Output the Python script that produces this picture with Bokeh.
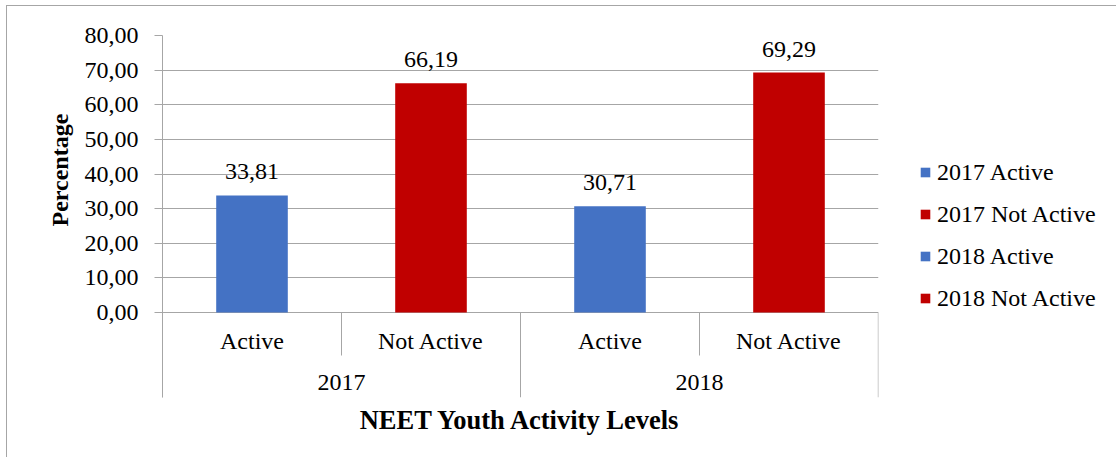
from bokeh.plotting import figure
from bokeh.models import (FactorRange, ColumnDataSource, FixedTicker, Legend,
                          LegendItem, Title, Range1d)
from bokeh.transform import dodge
from bokeh.embed import file_html
from bokeh.resources import INLINE
from bokeh.core.properties import value

# ---- data ----
years = ["2017", "2018"]
levels = ["Active", "Not Active"]
values = [33.81, 66.19, 30.71, 69.29]
level_colors = {"Active": "#4472C4", "Not Active": "#C00000"}
y_ticks = [0, 10, 20, 30, 40, 50, 60, 70, 80]

factors = [(y, l) for y in years for l in levels]

# ---- layout constants ----
FONT = "Liberation Serif"
LEFT, TOP, BOTTOM = 155, 29, 60
FW, FH = 716, 362
band_px = 85          # category band drawn inside the frame, below zero
y_max = 80
ppu = (FH - band_px) / y_max
y_min = -band_px / ppu
GRID = "#a6a6a6"

x_range = FactorRange(*factors, factor_padding=0, group_padding=0,
                      subgroup_padding=0, range_padding=0)
p = figure(frame_width=FW, frame_height=FH, x_range=x_range, y_range=Range1d(y_min, y_max),
           output_backend="svg", toolbar_location=None, x_axis_location=None,
           min_border_left=LEFT, min_border_right=0, min_border_top=TOP,
           min_border_bottom=BOTTOM)
p.outline_line_color = None
p.background_fill_color = "white"
p.border_fill_color = "white"
p.styles = {"margin-left": "6px", "margin-top": "5px",
            "border-left": "1px solid #a6a6a6", "border-top": "1px solid #a6a6a6"}

# ---- y axis ----
ax = p.yaxis[0]
ax.ticker = FixedTicker(ticks=y_ticks)
ax.major_label_overrides = {t: f"{t:.2f}".replace(".", ",") for t in y_ticks}
ax.major_label_text_font = FONT
ax.major_label_text_font_size = "24px"
ax.major_label_text_color = "black"
ax.major_label_standoff = 16
ax.major_tick_in = 0
ax.major_tick_out = 8
ax.major_tick_line_color = GRID
ax.minor_tick_line_color = None
ax.axis_line_color = GRID

# y axis title, shifted to sit beside the value scale
p.add_layout(Title(text="Percentage", align="left", offset=171, standoff=18,
                   text_font=FONT, text_font_size="24px", text_font_style="bold",
                   text_color="black"), "left")

p.xgrid.visible = False
p.ygrid.ticker = FixedTicker(ticks=y_ticks)
p.ygrid.grid_line_color = GRID

# ---- bars ----
src = ColumnDataSource(dict(
    x=factors,
    top=values,
    color=[level_colors[l] for (_, l) in factors],
    label=[f"{v:.2f}".replace(".", ",") for v in values],
))
bars = p.vbar(x="x", top="top", width=0.4, fill_color="color", line_color=None, source=src)

p.text(x="x", y="top", text="label", source=src, y_offset=-16,
       text_align="center", text_baseline="bottom",
       text_font=value(FONT), text_font_size="24px", text_color="black")

# ---- category axis drawn in the band below zero ----
inner_y = -28 / ppu
outer_y = -70 / ppu
cat_src = ColumnDataSource(dict(x=factors, y=[inner_y] * len(factors),
                                text=[l for (_, l) in factors]))
p.text(x="x", y="y", text="text", source=cat_src, text_align="center",
       text_baseline="middle", text_font=value(FONT), text_font_size="24px",
       text_color="black")

grp_src = ColumnDataSource(dict(x=years, y=[outer_y] * len(years), text=years))
p.text(x="x", y="y", text="text", source=grp_src,
       text_align="center", text_baseline="middle", text_font=value(FONT),
       text_font_size="24px", text_color="black")

inner_bottom = -43 / ppu
inner_src = ColumnDataSource(dict(x=[(y, levels[1]) for y in years]))
p.segment(x0=dodge("x", -0.5, range=x_range), x1=dodge("x", -0.5, range=x_range),
          y0=0, y1=inner_bottom, source=inner_src, line_color=GRID, line_width=1)

outer_left = ColumnDataSource(dict(x=[(y, levels[0]) for y in years]))
outer_right = ColumnDataSource(dict(x=[(years[-1], levels[-1])]))
p.segment(x0=dodge("x", -0.5, range=x_range), x1=dodge("x", -0.5, range=x_range),
          y0=0, y1=y_min, source=outer_left, line_color=GRID, line_width=1)
p.segment(x0=dodge("x", 0.499, range=x_range), x1=dodge("x", 0.499, range=x_range),
          y0=0, y1=y_min, source=outer_right, line_color=GRID, line_width=1)

# ---- legend ----
items = [LegendItem(label=f"{y} {l}", renderers=[bars], index=i)
         for i, (y, l) in enumerate(factors)]
legend = Legend(items=items, location=(41, 85), glyph_width=12, glyph_height=12,
                label_standoff=6, label_height=28, spacing=14, padding=0, margin=0,
                border_line_color=None, background_fill_alpha=0,
                label_text_font=FONT, label_text_font_size="24px",
                label_text_color="black")
p.add_layout(legend, "right")

# ---- x title ----
p.add_layout(Title(text="NEET Youth Activity Levels", align="center",
                   text_font=FONT, text_font_size="26.5px", text_font_style="bold",
                   text_color="black", standoff=11, offset=0), "below")

open("out.html", "w").write(file_html(p, INLINE))
